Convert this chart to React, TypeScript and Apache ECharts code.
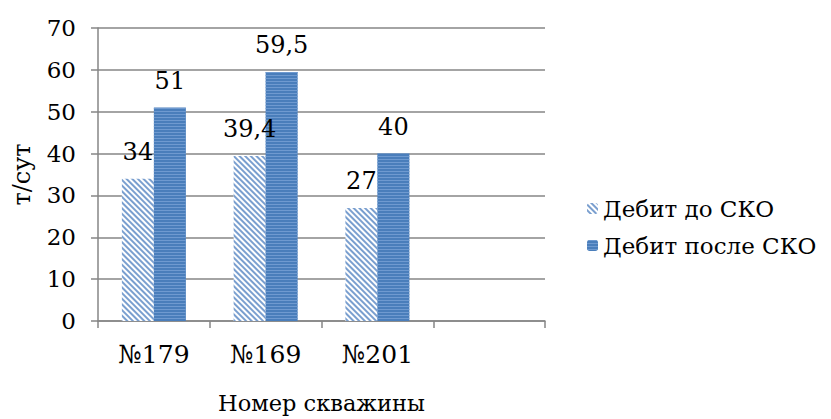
import React, { useEffect, useRef } from "react";
import * as echarts from "echarts";

const categories = ["№179", "№169", "№201", ""];
const before = [34, 39.4, 27];
const after = [51, 59.5, 40];
const yTicks = { min: 0, max: 70, interval: 10 };
const seriesNames = ["Дебит до СКО", "Дебит после СКО"];

const FONT = "DejaVu Serif";

export default function App() {
  const ref = useRef<HTMLDivElement>(null);
  useEffect(() => {
    const chart = echarts.init(ref.current!, null, { renderer: "svg" });
    const fmt = (p: any) => String(p.value).replace(".", ",");
    chart.setOption({
      animation: false,
      textStyle: { fontFamily: FONT },
      grid: { left: 98, right: 286, top: 28, bottom: 89 },
      legend: {
        orient: "vertical",
        left: 582,
        top: 192,
        itemWidth: 11,
        itemHeight: 11,
        itemGap: 14,
        textStyle: { fontFamily: FONT, fontSize: 23, color: "#000" },
        data: seriesNames,
      },
      xAxis: {
        type: "category",
        data: categories,
        name: "Номер скважины",
        nameLocation: "middle",
        nameGap: 70,
        nameTextStyle: { fontFamily: FONT, fontSize: 22.5, color: "#000" },
        axisLine: { lineStyle: { color: "#868686", width: 1.5 } },
        axisTick: { show: true, length: 7, lineStyle: { color: "#868686", width: 1.5 } },
        axisLabel: { fontFamily: FONT, fontSize: 25, color: "#000", margin: 21 },
      },
      yAxis: {
        type: "value",
        ...yTicks,
        name: "т/сут",
        nameLocation: "middle",
        nameGap: 64,
        nameTextStyle: { fontFamily: FONT, fontSize: 24, color: "#000" },
        axisLine: { show: true, lineStyle: { color: "#868686", width: 1.5 } },
        axisTick: { show: true, length: 7, lineStyle: { color: "#868686", width: 1.5 } },
        axisLabel: { fontFamily: FONT, fontSize: 23, color: "#000", margin: 22 },
        splitLine: { lineStyle: { color: "#868686", width: 1.5 } },
      },
      series: [
        {
          name: seriesNames[0],
          type: "bar",
          data: before,
          barWidth: 32,
          barGap: "0%",
          itemStyle: {
            color: "#ffffff",
            decal: {
              symbol: "rect",
              symbolSize: 1,
              color: "#7a9fcf",
              dashArrayX: [1, 0],
              dashArrayY: [2, 2],
              rotation: Math.PI / 4,
            },
          },
          label: {
            show: true,
            position: "top",
            distance: 15,
            formatter: fmt,
            fontFamily: FONT,
            fontSize: 24,
            color: "#000",
          },
        },
        {
          name: seriesNames[1],
          type: "bar",
          data: after,
          barWidth: 32,
          itemStyle: {
            color: "#4a7ebb",
            decal: {
              symbol: "rect",
              symbolSize: 1,
              color: "#6f9ad0",
              dashArrayX: [1, 0],
              dashArrayY: [1, 2],
              rotation: 0,
            },
          },
          label: {
            show: true,
            position: "top",
            distance: 15,
            formatter: fmt,
            fontFamily: FONT,
            fontSize: 24,
            color: "#000",
          },
        },
      ],
    });
    return () => chart.dispose();
  }, []);
  return <div ref={ref} style={{ width: 831, height: 419, position: "absolute", left: 0, top: 0, background: "#fff" }} />;
}
